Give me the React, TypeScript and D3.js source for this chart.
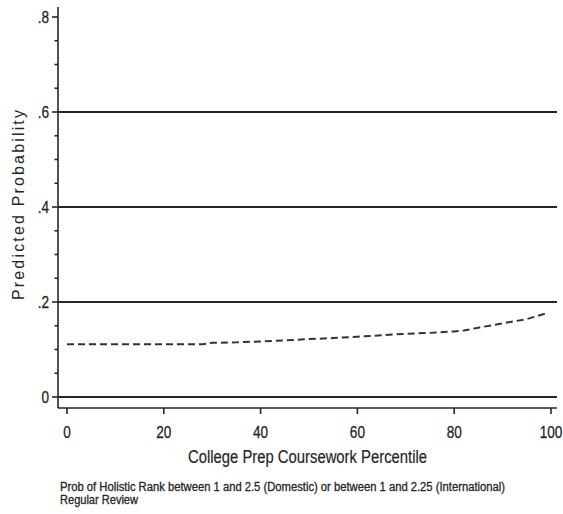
import React from "react";
import * as d3 from "d3";

// Predicted probability across college prep coursework percentile
const percentile = [0, 5, 10, 15, 20, 25, 28, 30, 35, 40, 45, 50, 55, 60, 65, 70, 75, 80, 82, 85, 90, 95, 99];
const predicted = [0.111, 0.111, 0.111, 0.111, 0.111, 0.111, 0.111, 0.114, 0.115, 0.117, 0.119, 0.122, 0.124, 0.127, 0.13, 0.133, 0.135, 0.138, 0.14, 0.146, 0.155, 0.164, 0.176];

const yMajorTicks = [0, 0.2, 0.4, 0.6, 0.8];
const yMajorLabels = ["0", ".2", ".4", ".6", ".8"];
const yMinorTicks = [0.05, 0.1, 0.15, 0.25, 0.3, 0.35, 0.45, 0.5, 0.55, 0.65, 0.7, 0.75];
const gridValues = [0, 0.2, 0.4, 0.6];
const xTicks = [0, 20, 40, 60, 80, 100];

const xTitle = "College Prep Coursework Percentile";
const yTitle = "Predicted Probability";
const noteLines = [
  "Prob of Holistic Rank between 1 and 2.5 (Domestic) or between 1 and 2.25 (International)",
  "Regular Review",
];

const W = 563;
const H = 514;
const axisX = 58;
const axisY = 408;
const plotRight = 557;
const plotTop = 7;
const ink = "#262626";
const font = "'Liberation Sans', Arial, sans-serif";
const squeeze = 0.8; // horizontal condensing for the narrow label face

export default function App() {
  const x = d3.scaleLinear().domain([0, 100]).range([67, 551]);
  const y = d3.scaleLinear().domain([0, 0.8]).range([397, 17]);

  const pts = percentile.map((p, i) => [p, predicted[i]] as [number, number]);
  const line = d3
    .line<[number, number]>()
    .x((d) => x(d[0]))
    .y((d) => y(d[1]));

  return (
    <svg
      width={W}
      height={H}
      style={{ position: "absolute", left: 0, top: 0, background: "#fff" }}
    >
      <rect x={0} y={0} width={W} height={H} fill="#fff" />

      {/* horizontal grid lines */}
      {gridValues.map((v) => (
        <line
          key={"g" + v}
          x1={axisX}
          x2={plotRight}
          y1={y(v)}
          y2={y(v)}
          stroke={ink}
          strokeWidth={2}
        />
      ))}

      {/* y axis */}
      <line x1={axisX} x2={axisX} y1={plotTop} y2={axisY} stroke={ink} strokeWidth={1.6} />
      {yMajorTicks.map((v, i) => (
        <g key={"ym" + v}>
          <line x1={axisX - 6} x2={axisX} y1={y(v)} y2={y(v)} stroke={ink} strokeWidth={1.6} />
          <text
            transform={`translate(${axisX - 9},${y(v)}) scale(${squeeze},1)`}
            dy="0.36em"
            textAnchor="end"
            fontFamily={font}
            fontSize={17}
            fill={ink}
            stroke={ink}
            strokeWidth={0.3}
          >
            {yMajorLabels[i]}
          </text>
        </g>
      ))}
      {yMinorTicks.map((v) => (
        <line
          key={"yn" + v}
          x1={axisX - 3.5}
          x2={axisX}
          y1={y(v)}
          y2={y(v)}
          stroke={ink}
          strokeWidth={1.6}
        />
      ))}

      {/* x axis */}
      <line x1={axisX} x2={plotRight} y1={axisY} y2={axisY} stroke={ink} strokeWidth={1.6} />
      {xTicks.map((v) => (
        <g key={"xt" + v}>
          <line x1={x(v)} x2={x(v)} y1={axisY} y2={axisY + 6} stroke={ink} strokeWidth={1.6} />
          <text
            transform={`translate(${x(v)},438) scale(${squeeze},1)`}
            textAnchor="middle"
            fontFamily={font}
            fontSize={17}
            fill={ink}
            stroke={ink}
            strokeWidth={0.3}
          >
            {v}
          </text>
        </g>
      ))}

      {/* predicted probability curve */}
      <path
        d={line(pts) || ""}
        fill="none"
        stroke="#333"
        strokeWidth={2}
        strokeDasharray="7,4"
      />

      {/* axis titles */}
      <text
        x={188}
        y={463}
        textLength={239}
        lengthAdjust="spacingAndGlyphs"
        fontFamily={font}
        fontSize={18}
        fill={ink}
        stroke={ink}
        strokeWidth={0.2}
      >
        {xTitle}
      </text>
      <text
        transform={`translate(24,300) rotate(-90)`}
        textLength={190}
        lengthAdjust="spacing"
        fontFamily={font}
        fontSize={16}
        fill={ink}
      >
        {yTitle}
      </text>

      {/* note */}
      <text
        x={60}
        y={491}
        textLength={445}
        lengthAdjust="spacingAndGlyphs"
        fontFamily={font}
        fontSize={12}
        fill={ink}
        stroke={ink}
        strokeWidth={0.3}
      >
        {noteLines[0]}
      </text>
      <text
        x={60}
        y={504}
        textLength={78}
        lengthAdjust="spacingAndGlyphs"
        fontFamily={font}
        fontSize={12}
        fill={ink}
        stroke={ink}
        strokeWidth={0.3}
      >
        {noteLines[1]}
      </text>
    </svg>
  );
}
